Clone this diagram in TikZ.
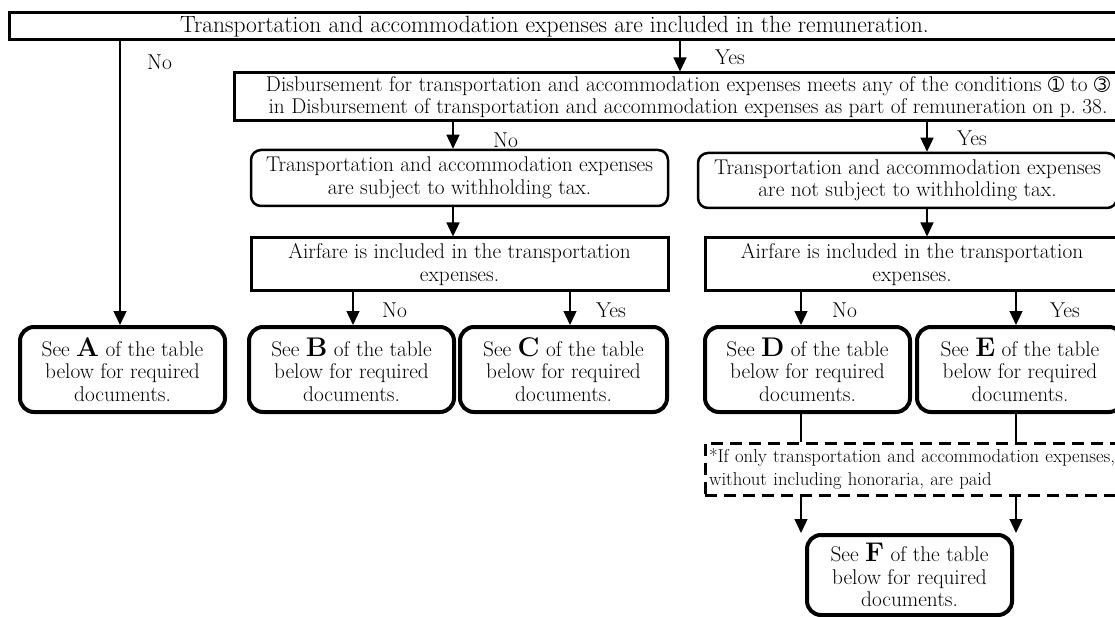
\documentclass[tikz,border=0pt]{standalone}
\usepackage{fontspec}
\usetikzlibrary{arrows.meta}
\newfontfamily\symfont{DejaVu Sans}
\newcommand{\cnum}[1]{{\symfont\fontsize{19}{19}\selectfont #1}}
\newcommand{\seebox}[1]{See {\fontsize{27}{23}\selectfont\bfseries #1} of the table\\below for required\\documents.}
\begin{document}
\begin{tikzpicture}[x=1pt,y=-1pt,
    box/.style={draw,line width=3pt,inner sep=0pt,align=center,font=\fontsize{21.3}{22.5}\selectfont},
    rbox/.style={box,line width=2.5pt,rounded corners=10pt},
    res/.style={box,line width=4pt,rounded corners=14pt,minimum width=205pt,minimum height=85pt},
    note/.style={draw,dash pattern=on 12pt off 7pt,line width=3pt,align=left,inner xsep=4pt,inner ysep=0pt,font=\fontsize{18.7}{22.5}\selectfont},
    lbl/.style={anchor=west,inner sep=0pt,font=\fontsize{21.5}{22}\selectfont},
    arr/.style={line width=1.3pt,-{Triangle[width=13pt,length=14pt]}},
    ln/.style={line width=1.3pt}]
  \useasboundingbox (0,0) rectangle (1115,617);
  % columns of the connectors
  \coordinate (cA) at (120,0);
  \coordinate (cY) at (680,0);
  \coordinate (cL) at (453,0);
  \coordinate (cR) at (927,0);
  \coordinate (cB) at (353,0);
  \coordinate (cC) at (570,0);
  \coordinate (cD) at (801,0);
  \coordinate (cE) at (1016,0);
  % questions
  \node[box,minimum width=1116pt,minimum height=27pt,font=\fontsize{23.5}{24}\selectfont] (top) at (567,26.5)
    {Transportation and accommodation expenses are included in the remuneration.\hspace*{25pt}};
  \node[box,minimum width=908pt,minimum height=48pt] (cond) at (688,97)
    {Disbursement for transportation and accommodation expenses meets any of the conditions \cnum{➀} to \cnum{➂}\\
     in Disbursement of transportation and accommodation expenses as part of remuneration on p.~38.};
  \node[rbox,minimum width=417pt,minimum height=56pt] (subj) at (459.5,178)
    {Transportation and accommodation expenses\\are subject to withholding tax.};
  \node[rbox,minimum width=419pt,minimum height=55pt] (notsubj) at (907.5,180.5)
    {Transportation and accommodation expenses\\are not subject to withholding tax.};
  \node[box,minimum width=417pt,minimum height=53pt] (airL) at (459.5,264.5)
    {Airfare is included in the transportation\\expenses.};
  \node[box,minimum width=414pt,minimum height=53pt] (airR) at (912,264.5)
    {Airfare is included in the transportation\\expenses.};
  % results
  \node[res] (A) at (122.5,369.5) {\seebox{A}};
  \node[res] (B) at (351.5,369.5) {\seebox{B}};
  \node[res,minimum width=207pt] (C) at (563.5,369.5) {\seebox{C}};
  \node[res] (D) at (807.5,369.5) {\seebox{D}};
  \node[res,minimum width=206pt] (E) at (1020,369.5) {\seebox{E}};
  \node[note,text width=412pt,minimum height=52pt] (note) at (915,469)
    {*If only transportation and accommodation expenses,\\without including honoraria, are paid};
  \node[res,minimum height=80pt] (F) at (909.5,575) {\seebox{F}};
  % connectors
  \draw[arr] (top.south -| cA) -- (A.north -| cA);
  \draw[arr] (top.south -| cY) -- (cond.north -| cY);
  \draw[arr] (cond.south -| cL) -- (subj.north -| cL);
  \draw[arr] (subj.south -| cL) -- (airL.north -| cL);
  \draw[arr] (cond.south -| cR) -- (notsubj.north -| cR);
  \draw[arr] (notsubj.south -| cR) -- (airR.north -| cR);
  \draw[arr] (airL.south -| cB) -- (B.north -| cB);
  \draw[arr] (airL.south -| cC) -- (C.north -| cC);
  \draw[arr] (airR.south -| cD) -- (D.north -| cD);
  \draw[arr] (airR.south -| cE) -- (E.north -| cE);
  \draw[ln] (D.south -| cD) -- (note.north -| cD);
  \draw[ln] (E.south -| cE) -- (note.north -| cE);
  \draw[arr] (note.south -| cD) -- (F.north -| cD);
  \draw[arr] (note.south -| cE) -- (F.north -| cE);
  % labels
  \node[lbl] (noA) at (147,62) {No};
  \node[lbl] (yesT) at (715,57) {Yes};
  \node[lbl] (noL) at (493,140) {No};
  \node[lbl] (yesR) at (957,138) {Yes};
  \node[lbl] (noB) at (382,310) {No};
  \node[lbl] (yesC) at (596,310) {Yes};
  \node[lbl] (noD) at (832,310) {No};
  \node[lbl] (yesE) at (1050,310) {Yes};
\end{tikzpicture}
\end{document}
